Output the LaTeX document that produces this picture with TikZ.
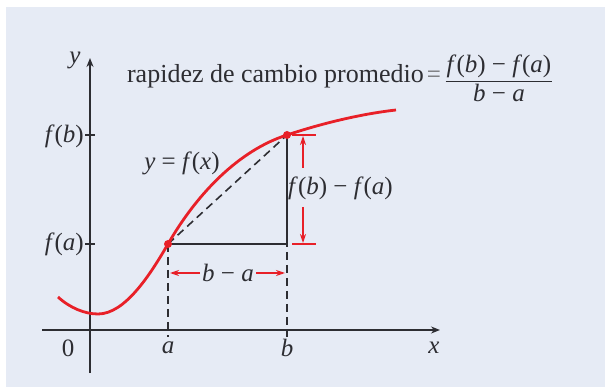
\documentclass[tikz,border=0pt]{standalone}
\usepackage{fontspec}
\setmainfont{Liberation Serif}
\newfontfamily\timesf{Liberation Serif}
\usetikzlibrary{arrows.meta}
\definecolor{bg}{RGB}{230,235,245}
\definecolor{fred}{RGB}{232,32,40}
\definecolor{ink}{RGB}{45,45,50}
\newcommand{\iv}[1]{\textit{#1}}
\begin{document}
\begin{tikzpicture}[x=1pt,y=-1pt,
  lbl/.style={font=\timesf\fontsize{25}{27}\selectfont, text=ink, inner sep=0pt},
  axisline/.style={draw=ink, line width=1.8pt},
  tri/.style={draw=ink, line width=1.6pt},
  dashline/.style={draw=ink, line width=1.6pt, dash pattern=on 8pt off 5pt},
  curve/.style={draw=fred, line width=2.8pt},
  dim/.style={draw=fred, line width=1.3pt, -{Stealth[length=9pt,width=6pt]}},
  bar/.style={draw=fred, line width=1.6pt},
  dot/.style={circle, fill=fred, inner sep=0pt, minimum size=8pt}]
\useasboundingbox (0,0) rectangle (605,387);
\fill[white] (0,0) rectangle (605,387);
\fill[bg] (6,7) rectangle (605,387);
% axes
\coordinate (xs) at (42,330);
\coordinate (xe) at (440,330);
\coordinate (ys) at (90,373);
\coordinate (ye) at (90,58);
\draw[axisline,-{Stealth[length=9pt,width=7pt]}] (xs) -- (xe);
\draw[axisline,-{Stealth[length=9pt,width=7pt]}] (ys) -- (ye);
% key points
\coordinate (A) at (168,244);
\coordinate (B) at (287,135);
\coordinate (C) at (287,244);
\coordinate (Af) at (168,337);
\coordinate (Bf) at (287,337);
\coordinate (ta1) at (85,244);
\coordinate (ta2) at (95,244);
\coordinate (tb1) at (85,135);
\coordinate (tb2) at (95,135);
\draw[axisline, line width=1.4pt] (ta1) -- (ta2);
\draw[axisline, line width=1.4pt] (tb1) -- (tb2);
% triangle
\draw[tri] (A) -- (C) -- (B);
\draw[dashline] (A) -- (B);
\draw[dashline] (A) -- (Af);
\draw[dashline] (B) -- (Bf);
% curve
\coordinate (P0) at (58,297);
\coordinate (Pm) at (98,314);
\coordinate (Pe) at (396,110);
\draw[curve] (P0) .. controls (70,308) and (85,314) .. (Pm)
  .. controls (125,314) and (150,275) .. (A)
  .. controls (198,192) and (240,150) .. (B)
  .. controls (320,124) and (360,114) .. (Pe);
\node[dot] (dA) at (A) {};
\node[dot] (dB) at (B) {};
% horizontal dimension
\node[lbl] (ba) at (228,273) {\iv{b} − \iv{a}};
\coordinate (hl) at (170,273);
\coordinate (hr) at (285,273);
\draw[dim] (ba.west) ++(-2,0) -- (hl);
\draw[dim] (ba.east) ++(2,0) -- (hr);
% vertical dimension
\node[lbl, anchor=west] (fd) at (288,188) {\iv{f}(\iv{b}) − \iv{f}(\iv{a})};
\coordinate (vt) at (303,136);
\coordinate (vb) at (303,243);
\coordinate (vm1) at (303,168);
\coordinate (vm2) at (303,207);
\coordinate (bt1) at (292,135);
\coordinate (bt2) at (316,135);
\coordinate (bb1) at (292,244);
\coordinate (bb2) at (316,244);
\draw[bar] (bt1) -- (bt2);
\draw[bar] (bb1) -- (bb2);
\draw[dim] (vm1) -- (vt);
\draw[dim] (vm2) -- (vb);
% labels
\node[lbl] (ylab) at (75,60) {\iv{y}};
\node[lbl] (xlab) at (434,348) {\iv{x}};
\node[lbl] (zero) at (68,348) {0};
\node[lbl] (alab) at (168,348) {\iv{a}};
\node[lbl] (blab) at (287,348) {\iv{b}};
\node[lbl, anchor=east] (fblab) at (84,136) {\iv{f}(\iv{b})};
\node[lbl, anchor=east] (falab) at (84,244) {\iv{f}(\iv{a})};
\node[lbl] (yfx) at (182,163) {\iv{y} = \iv{f}(\iv{x})};
% title
\node[lbl, font=\timesf\fontsize{26}{28}\selectfont, anchor=base east] (title) at (424,83) {rapidez de cambio promedio};
\node[lbl, text=ink!70] (eq) at (434,77) {=};
\node[lbl] (num) at (499,66) {\iv{f}(\iv{b}) − \iv{f}(\iv{a})};
\node[lbl] (den) at (499,93) {\iv{b} − \iv{a}};
\draw[ink, line width=1.4pt] (num.south west) ++(-1,4) -- ([xshift=1pt,yshift=-4pt]num.south east);
\end{tikzpicture}
\end{document}
